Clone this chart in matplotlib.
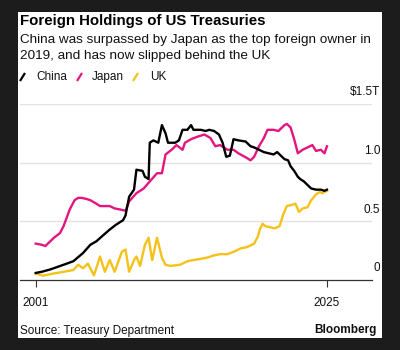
import matplotlib
matplotlib.use("Agg")
import matplotlib.pyplot as plt
from matplotlib.lines import Line2D
from matplotlib.patches import Rectangle
import matplotlib.transforms as mtransforms

plt.rcParams['font.family'] = ['Liberation Sans', 'DejaVu Sans']

# ---- data (decimal year, $ trillions) ----
japan_t = [2001.0, 2001.5, 2001.8, 2002.2, 2002.5, 2003.0, 2003.3, 2003.8, 2004.2, 2004.5,
           2004.8, 2005.2, 2005.5, 2006.0, 2006.3, 2006.7, 2007.1, 2007.5, 2008.0, 2008.4,
           2008.7, 2009.3, 2009.9, 2010.4, 2011.0, 2011.4, 2011.7, 2012.2, 2012.6, 2013.1,
           2013.3, 2013.8, 2014.3, 2014.9, 2015.4, 2015.8, 2016.2, 2016.8, 2017.3, 2017.7,
           2018.4, 2018.7, 2019.0, 2019.4, 2019.8, 2020.1, 2020.6, 2021.0, 2021.5, 2021.7,
           2022.0, 2022.3, 2022.6, 2023.0, 2023.4, 2023.8, 2024.1, 2024.5, 2024.8, 2025.0]
japan_v = [0.31, 0.30, 0.29, 0.33, 0.36, 0.40, 0.46, 0.60, 0.68, 0.70,
           0.70, 0.69, 0.68, 0.65, 0.63, 0.63, 0.63, 0.61, 0.60, 0.59,
           0.67, 0.74, 0.78, 0.84, 0.91, 0.91, 1.07, 1.11, 1.15, 1.11,
           1.17, 1.20, 1.22, 1.24, 1.21, 1.14, 1.15, 1.11, 1.11, 1.08,
           1.04, 1.02, 1.05, 1.14, 1.21, 1.28, 1.28, 1.27, 1.32, 1.33,
           1.30, 1.20, 1.08, 1.11, 1.13, 1.15, 1.10, 1.11, 1.08, 1.14]

china_t = [2001.0, 2001.5, 2002.2, 2003.3, 2004.1, 2004.9, 2005.5, 2006.0, 2006.6, 2007.1,
           2007.6, 2008.2, 2008.4, 2008.7, 2009.1, 2009.3, 2009.8, 2010.0, 2010.3, 2010.4,
           2010.7, 2011.1, 2011.4, 2011.7, 2011.9, 2012.5, 2012.8, 2013.1, 2013.5, 2013.8,
           2014.0, 2014.6, 2015.0, 2015.3, 2015.7, 2016.1, 2016.4, 2016.7, 2017.0, 2017.3,
           2017.7, 2018.3, 2018.7, 2019.0, 2019.4, 2019.8, 2020.2, 2020.6, 2020.9, 2021.1,
           2021.5, 2021.8, 2022.0, 2022.3, 2022.6, 2022.8, 2023.1, 2023.4, 2023.7, 2024.1,
           2024.5, 2024.8, 2025.0]
china_v = [0.06, 0.07, 0.09, 0.13, 0.16, 0.23, 0.30, 0.33, 0.385, 0.43,
           0.47, 0.51, 0.55, 0.71, 0.77, 0.94, 0.93, 0.88, 0.86, 1.17,
           1.19, 1.17, 1.32, 1.25, 1.17, 1.17, 1.19, 1.28, 1.28, 1.32,
           1.28, 1.28, 1.27, 1.28, 1.27, 1.24, 1.17, 1.05, 1.06, 1.20,
           1.19, 1.18, 1.14, 1.13, 1.11, 1.09, 1.08, 1.07, 1.09, 1.07,
           1.03, 1.02, 0.97, 0.93, 0.88, 0.86, 0.84, 0.81, 0.78, 0.77,
           0.77, 0.76, 0.77]

uk_t = [2001.0, 2001.6, 2002.2, 2003.3, 2004.1, 2004.5, 2004.9, 2005.3, 2005.8, 2006.3,
        2006.7, 2007.1, 2007.5, 2008.1, 2008.4, 2008.7, 2009.1, 2009.3, 2009.6, 2010.0,
        2010.3, 2010.6, 2011.0, 2011.4, 2011.7, 2012.1, 2012.9, 2013.5, 2014.0, 2014.6,
        2015.1, 2015.7, 2016.2, 2016.8, 2017.3, 2017.9, 2018.4, 2019.0, 2019.3, 2019.5,
        2019.7, 2019.9, 2020.3, 2020.7, 2021.1, 2021.4, 2021.7, 2022.1, 2022.4, 2022.7,
        2023.0, 2023.4, 2023.7, 2024.1, 2024.4, 2024.6, 2025.0]
uk_v = [0.055, 0.037, 0.05, 0.07, 0.085, 0.13, 0.10, 0.14, 0.04, 0.20,
        0.07, 0.17, 0.07, 0.24, 0.26, 0.07, 0.17, 0.20, 0.12, 0.30,
        0.36, 0.17, 0.36, 0.19, 0.13, 0.12, 0.13, 0.16, 0.17, 0.18,
        0.19, 0.21, 0.22, 0.22, 0.24, 0.27, 0.28, 0.31, 0.37, 0.44,
        0.48, 0.46, 0.45, 0.44, 0.46, 0.56, 0.63, 0.64, 0.65, 0.58,
        0.61, 0.62, 0.68, 0.73, 0.75, 0.74, 0.76]

series_names = ['China', 'Japan', 'UK']
series_colors = ['#000000', '#E5157F', '#F5C11A']

y_ticks = [0, 0.5, 1.0, 1.5]
y_tick_labels = ['0', '0.5', '1.0', '$1.5T']
x_ticks = [2001, 2025]
x_tick_labels = ['2001', '2025']

title = 'Foreign Holdings of US Treasuries'
subtitle = 'China was surpassed by Japan as the top foreign owner in\n2019, and has now slipped behind the UK'
source = 'Source: Treasury Department'

# ---- figure ----
W, H = 400, 350
fig = plt.figure(figsize=(W / 100, H / 100), dpi=100)
fig.patch.set_facecolor('#1c1c1c')

def fx(px):
    return px / W

def fy(py):
    return 1 - py / H

# white panel
fig.add_artist(Rectangle((fx(18), fy(338)), fx(382) - fx(18), fy(12) - fy(338),
                         transform=fig.transFigure, facecolor='white', edgecolor='none', zorder=0))

ax = fig.add_axes([fx(20), fy(280), fx(372) - fx(20), fy(104) - fy(280)])
ax.set_facecolor('none')
ax.set_xlim(2001 - 15.7 / 12.12, 2025 + 45 / 12.12)
ax.set_ylim(0, 1.5)

for s in ['top', 'right', 'left']:
    ax.spines[s].set_visible(False)
ax.spines['bottom'].set_color('#333333')
ax.spines['bottom'].set_linewidth(0.9)

for v in y_ticks[1:]:
    ax.axhline(v, color='#e3e3e3', lw=1.0, zorder=0)

ax.set_yticks([])
ax.set_xticks(x_ticks)
ax.set_xticklabels(x_tick_labels, fontsize=8.5, color='#111111')
ax.tick_params(axis='x', length=5, width=0.8, color='#333333', pad=7)

trans = mtransforms.blended_transform_factory(ax.transAxes, ax.transData)
for v, lab in zip(y_ticks, y_tick_labels):
    ax.annotate(lab, xy=(1.0, v), xycoords=trans, xytext=(5.8, 4), textcoords='offset points',
                ha='right', va='bottom', fontsize=8.5, color='#111111', annotation_clip=False)

ax.plot(uk_t, uk_v, color=series_colors[2], lw=1.7, solid_joinstyle='round', zorder=3)
ax.plot(japan_t, japan_v, color=series_colors[1], lw=1.7, solid_joinstyle='round', zorder=4)
ax.plot(china_t, china_v, color=series_colors[0], lw=1.7, solid_joinstyle='round', zorder=5)

# texts
fig.text(fx(20), fy(21), title, fontsize=10.8, fontweight='bold', ha='left', va='center', color='#000000')
fig.text(fx(20), fy(40), subtitle.split('\n')[0], fontsize=9.7, ha='left', va='center', color='#111111')
fig.text(fx(20), fy(56), subtitle.split('\n')[1], fontsize=9.7, ha='left', va='center', color='#111111')

# legend
leg_x = [20, 77, 133]
txt_x = [36, 92, 150]
for name, col, lx, tx in zip(series_names, series_colors, leg_x, txt_x):
    fig.add_artist(Line2D([fx(lx), fx(lx + 5)], [fy(81), fy(73)], transform=fig.transFigure,
                          color=col, lw=1.6, solid_capstyle='butt'))
    fig.text(fx(tx), fy(77), name, fontsize=8.5, ha='left', va='center', color='#111111')

fig.text(fx(20), fy(331), source, fontsize=8.5, ha='left', va='center', color='#111111')
fig.text(fx(377), fy(330), 'Bloomberg', fontsize=8.5, fontweight='bold', ha='right', va='center', color='#111111')

fig.savefig('out.png', dpi=100, facecolor=fig.get_facecolor())
